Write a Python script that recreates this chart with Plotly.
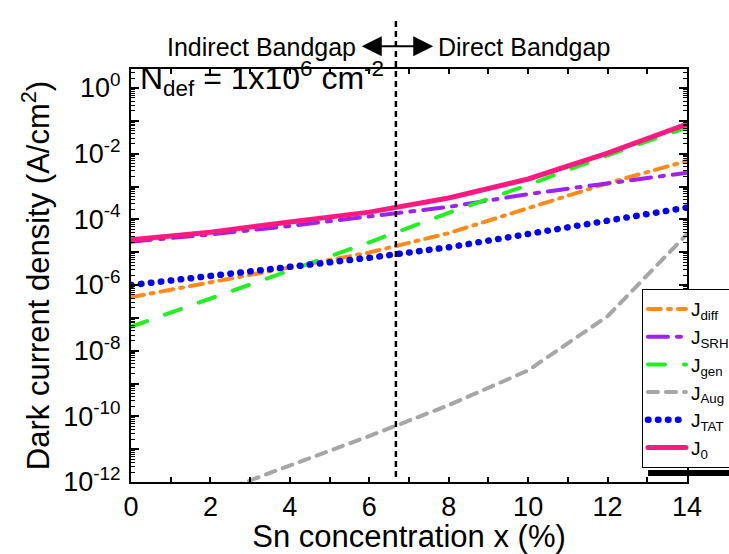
import plotly.graph_objects as go

# ---- data (log10 of current density, A/cm^2) ----
x_sn = [0, 2, 4, 6, 8, 10, 12, 14]
log_j_diff = [-6.37, -5.92, -5.46, -5.01, -4.42, -3.66, -2.90, -2.22]
log_j_srh = [-4.68, -4.46, -4.20, -3.92, -3.62, -3.23, -2.90, -2.58]
log_j_gen = [-7.27, -6.42, -5.56, -4.70, -3.80, -2.95, -2.05, -1.20]
log_j_aug = [-13.30, -12.40, -11.50, -10.60, -9.66, -8.60, -6.95, -4.45]
log_j_tat = [-6.00, -5.73, -5.45, -5.17, -4.85, -4.42, -4.04, -3.64]
log_j_0 = [-4.62, -4.39, -4.08, -3.78, -3.35, -2.77, -1.98, -1.10]

transition_x = 6.67
x_ticks = list(range(0, 15))
y_decades = list(range(0, -13, -1))

series = [
    ("J<sub>diff</sub>", log_j_diff, "#FF8A1C", "13px,7px,3px,7px", 4),
    ("J<sub>SRH</sub>", log_j_srh, "#A020F0", "20px,9px,4px,9px", 4),
    ("J<sub>gen</sub>", log_j_gen, "#22EE22", "17px,19px", 4),
    ("J<sub>Aug</sub>", log_j_aug, "#A6A6A6", "10px,8px", 4),
    ("J<sub>TAT</sub>", log_j_tat, "#0000FF", "0.5px,9.5px", 6.5),
    ("J<sub>0</sub>", log_j_0, "#FF1A80", "solid", 5),
]

FONT = "Arial, Liberation Sans, sans-serif"

fig = go.Figure()
for name, vals, color, dash, w in series:
    fig.add_trace(go.Scatter(
        x=x_sn, y=[10 ** v for v in vals], mode="lines", name=name,
        line=dict(color=color, width=w, dash=dash),
    ))

minor_vals = [k * 10 ** d for d in range(-12, 1) for k in range(2, 10)]

fig.update_layout(
    width=729, height=554,
    margin=dict(l=131, r=42, t=69, b=72, autoexpand=False),
    paper_bgcolor="white", plot_bgcolor="white",
    font=dict(family=FONT, color="black"),
    showlegend=True,
    legend=dict(
        x=0.919, y=0.467, xanchor="left", yanchor="top",
        bgcolor="white", bordercolor="black", borderwidth=1,
        font=dict(size=19, family=FONT), tracegroupgap=0, itemwidth=38,
    ),
    xaxis=dict(
        range=[0, 14], tickmode="array", tickvals=x_ticks,
        ticktext=[str(v) if v % 2 == 0 else "" for v in x_ticks],
        ticks="inside", ticklen=5, tickwidth=1.5, tickcolor="black",
        showline=True, linewidth=2, linecolor="black", mirror="ticks",
        showgrid=False, zeroline=False, automargin=False,
        tickfont=dict(size=27),
        title=dict(text="Sn concentration x (%)", font=dict(size=31), standoff=2),
    ),
    yaxis=dict(
        type="log", range=[-12, 0.58], tickmode="array",
        tickvals=[10 ** d for d in y_decades],
        ticktext=[("10<sup>%d</sup>" % d) if d % 2 == 0 else "" for d in y_decades],
        ticks="inside", ticklen=8, tickwidth=1.5, tickcolor="black",
        minor=dict(tickmode="array", tickvals=minor_vals, ticks="inside",
                   ticklen=4, tickwidth=1, tickcolor="black", showgrid=False),
        showline=True, linewidth=2, linecolor="black", mirror="ticks",
        showgrid=False, zeroline=False, automargin=False,
        tickfont=dict(size=27), ticklabelstandoff=3,
        title=dict(text="Dark current density (A/cm<sup>2</sup>)", font=dict(size=31), standoff=4),
    ),
)

# vertical transition line
fig.add_shape(type="line", xref="x", yref="paper", x0=transition_x, x1=transition_x,
              y0=0.012, y1=1.123, line=dict(color="black", width=2.5, dash="6px,4px"))
# black bar under legend
fig.add_shape(type="rect", xref="paper", yref="paper", x0=0.93, x1=1.08, y0=0.0145, y1=0.029,
              line=dict(width=0), fillcolor="black")

fig.add_annotation(xref="paper", yref="paper", x=0.408, y=1.053, xanchor="right", yanchor="middle",
                   text="Indirect Bandgap", showarrow=False, font=dict(size=25))
fig.add_annotation(xref="paper", yref="paper", x=0.5486, y=1.053, xanchor="left", yanchor="middle",
                   text="Direct Bandgap", showarrow=False, font=dict(size=25))
fig.add_annotation(xref="x", yref="paper", x=7.61, y=1.055, ax=-73, ay=0, axref="pixel", ayref="pixel",
                   text="", showarrow=True, arrowhead=2, startarrowhead=2, arrowside="end+start",
                   arrowsize=2, startarrowsize=2, arrowwidth=2, arrowcolor="black")
fig.add_annotation(xref="paper", yref="paper", x=0.012, y=0.978, xanchor="left", yanchor="middle",
                   text="N<sub>def</sub> = 1x10<sup>6</sup> cm<sup>-2</sup>", showarrow=False,
                   font=dict(size=32))

post = ("document.body.style.margin='0';document.body.style.padding='0';"
        "document.documentElement.style.overflow='hidden';"
        "var gd=document.getElementById('{plot_id}');"
        "function rc(){gd.querySelectorAll('path.js-line').forEach(function(p){p.style.strokeLinecap='round';});}"
        "rc(); gd.on('plotly_afterplot', rc);")
fig.write_html("out.html", post_script=post, config={"displayModeBar": False})
